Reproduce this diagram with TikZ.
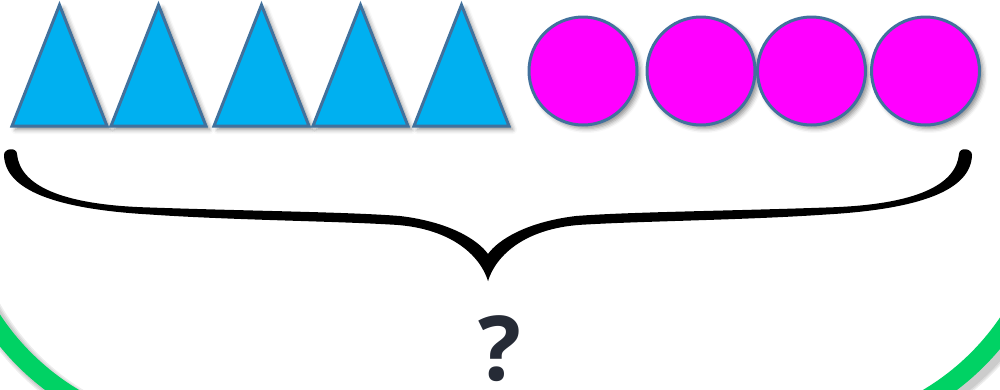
\documentclass[tikz,border=0pt]{standalone}
\usepackage{fontspec}
\newfontfamily\qfont{Open Sans}
\usetikzlibrary{shadows.blur}
\definecolor{triblue}{HTML}{00B0F0}
\definecolor{edgeblue}{HTML}{41719C}
\definecolor{magfill}{HTML}{FF00FF}
\definecolor{cardgreen}{HTML}{00D264}
\definecolor{qcol}{HTML}{262B36}
\begin{document}
\begin{tikzpicture}[x=0.02cm,y=-0.02cm,
  shapeshadow/.style={blur shadow={shadow xshift=0.07cm,shadow yshift=-0.07cm,shadow blur radius=0.09cm,shadow opacity=45}},
  tri/.style={fill=triblue,draw=edgeblue,line width=0.06cm,line join=miter,shapeshadow},
  disc/.style={fill=magfill,draw=edgeblue,line width=0.06cm,shapeshadow},
  bracefill/.style={fill=black},
  cardline/.style={draw=cardgreen,line width=0.38cm},
  cardshadow/.style={draw=black,line width=0.38cm+#1,opacity=0.07}]
\useasboundingbox (0,0) rectangle (1000,389);
\begin{scope}
\clip (0,0) rectangle (1000,389);
% card border shadow
\foreach \w in {0.16cm,0.10cm,0.04cm}{
  \draw[cardshadow=\w,rounded corners=5.02cm] (-44,-100) -- (-44,438) -- (1056,438) -- (1056,-100);
}
\draw[cardline,rounded corners=5.02cm] (-49,-100) -- (-49,433) -- (1051,433) -- (1051,-100);
\end{scope}
% triangles
\foreach \c in {59.5,158.5,261.5,360.5,461.5}{
  \path[tri] (\c-47.5,126) -- (\c,5) -- (\c+47.5,126) -- cycle;
}
% circles
\foreach \c in {583,701,811.5,925.5}{
  \path[disc] (\c,71) circle (54);
}
% brace: left half and mirrored right half
\path[bracefill] (17,154) .. controls (20,185) and (60,205) .. (150,207.5)
  .. controls (250,211) and (350,212) .. (400,216)
  .. controls (450,222) and (478,240) .. (488,254)
  -- (488,281)
  .. controls (480,255) and (450,227) .. (390,224.5)
  .. controls (330,221) and (230,220) .. (150,214.5)
  .. controls (55,209) and (5,190) .. (4,155)
  .. controls (4,148) and (17,147) .. (17,154) -- cycle;
\begin{scope}[shift={(976,0)},xscale=-1]
\path[bracefill] (17,154) .. controls (20,185) and (60,205) .. (150,207.5)
  .. controls (250,211) and (350,212) .. (400,216)
  .. controls (450,222) and (478,240) .. (488,254)
  -- (488,281)
  .. controls (480,255) and (450,227) .. (390,224.5)
  .. controls (330,221) and (230,220) .. (150,214.5)
  .. controls (55,209) and (5,190) .. (4,155)
  .. controls (4,148) and (17,147) .. (17,154) -- cycle;
\end{scope}
\node[anchor=base,inner sep=0pt,text=qcol,font=\qfont\bfseries\fontsize{51}{51}\selectfont] (q) at (500,380) {?};
\end{tikzpicture}
\end{document}
